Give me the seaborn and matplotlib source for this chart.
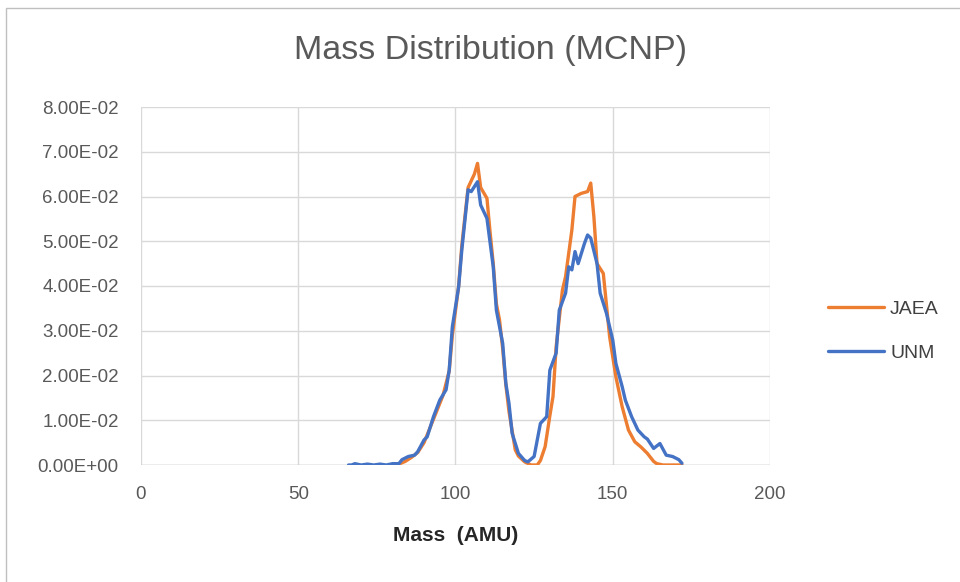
import matplotlib
matplotlib.use("Agg")
import matplotlib.pyplot as plt
from matplotlib.patches import Rectangle
from matplotlib.ticker import FuncFormatter
import pandas as pd
import seaborn as sns

# values
jaea_mass = [80, 82, 84, 86, 88, 90, 92, 94, 96, 98, 99, 101, 102, 104, 106, 107, 108, 110,
             111, 112, 113, 114, 115, 116, 117, 119, 120, 122, 124, 126, 127, 128.5, 130, 131,
             132, 134, 135, 137, 138, 140, 142, 143, 144, 145, 147, 149, 151, 153, 155, 157,
             159, 161, 163, 164, 166, 168, 170, 172]
jaea_val = [0.0, 0.0002, 0.0008, 0.0017, 0.0028, 0.005, 0.0085, 0.012, 0.0155, 0.021, 0.029,
            0.040, 0.049, 0.062, 0.065, 0.0674, 0.062, 0.0596, 0.052, 0.045, 0.036, 0.0324,
            0.026, 0.018, 0.012, 0.0034, 0.002, 0.0007, 0.0, 0.0, 0.001, 0.0041, 0.011, 0.0153,
            0.0264, 0.0391, 0.0421, 0.0525, 0.060, 0.0607, 0.0611, 0.063, 0.0555, 0.045, 0.0428,
            0.0287, 0.0197, 0.013, 0.0078, 0.0052, 0.004, 0.0026, 0.0008, 0.0003, 0.0, 0.0,
            0.0, 0.0]

unm_mass = [66, 67, 68, 70, 72, 74, 76, 78, 80, 82, 83, 85, 87, 88, 90, 91, 93, 95, 97, 98,
            99, 101, 102, 104, 105, 107, 108, 110, 112, 113, 115, 116, 117, 118, 120, 122, 123,
            125, 127, 129, 130, 132, 133, 135, 136, 137, 138, 139, 141, 142, 143, 145, 146, 148,
            150, 151, 153, 154, 156, 158, 160, 161, 163, 165, 167, 169, 171, 172]
unm_val = [0.0, 0.0, 0.0003, 0.0, 0.0002, 0.0, 0.0002, 0.0, 0.0003, 0.0003, 0.0012, 0.0019,
           0.0022, 0.003, 0.0056, 0.0063, 0.0108, 0.0145, 0.0168, 0.0212, 0.0309, 0.0398, 0.048,
           0.0615, 0.0611, 0.0633, 0.0581, 0.0551, 0.0443, 0.0346, 0.0272, 0.0183, 0.0138,
           0.0071, 0.0026, 0.001, 0.0007, 0.0019, 0.0093, 0.0108, 0.0212, 0.025, 0.0346, 0.0384,
           0.0443, 0.0436, 0.0477, 0.045, 0.0495, 0.0514, 0.0507, 0.045, 0.0384, 0.0339, 0.0279,
           0.0227, 0.0175, 0.0145, 0.0108, 0.0078, 0.0063, 0.0058, 0.0037, 0.0048, 0.0022,
           0.0019, 0.0012, 0.0004]

x_ticks = [0, 50, 100, 150, 200]
y_ticks = [0.0, 0.01, 0.02, 0.03, 0.04, 0.05, 0.06, 0.07, 0.08]

df = pd.concat([
    pd.DataFrame({'mass': jaea_mass, 'value': jaea_val, 'source': 'JAEA'}),
    pd.DataFrame({'mass': unm_mass, 'value': unm_val, 'source': 'UNM'}),
], ignore_index=True)

sns.set_style("white")
plt.rcParams['font.family'] = ['Liberation Sans', 'DejaVu Sans']

fig = plt.figure(figsize=(9.6, 5.82), dpi=100)
ax = fig.add_axes([141 / 960, 1 - 465 / 582, 629 / 960, 358 / 582])

sns.lineplot(data=df, x='mass', y='value', hue='source',
             palette={'JAEA': '#ED7D31', 'UNM': '#4472C4'},
             linewidth=2.4, ax=ax, sort=False, estimator=None)

ax.set_xlim(0, 200)
ax.set_ylim(0, 0.08)
ax.set_xticks(x_ticks)
ax.set_yticks(y_ticks)
ax.yaxis.set_major_formatter(FuncFormatter(lambda v, p: f"{v:.2E}"))
ax.grid(True, color='#d9d9d9', linewidth=1)
for s in ax.spines.values():
    s.set_visible(False)
ax.axhline(0, color='#bfbfbf', linewidth=1, zorder=1)
ax.tick_params(axis='both', length=0, labelsize=13.5, labelcolor='#595959')
ax.tick_params(axis='x', pad=15)
ax.tick_params(axis='y', pad=16)

ax.set_xlabel('Mass  (AMU)', fontsize=15, fontweight='bold', labelpad=17)
ax.set_ylabel('')
fig.text(491 / 960, 1 - 51 / 582, 'Mass Distribution (MCNP)', ha='center', va='center',
         fontsize=24.5, color='#595959')

leg = ax.legend(loc='center left', bbox_to_anchor=(1.092, 0.374), frameon=False,
                borderaxespad=0, borderpad=0,
                fontsize=14, handlelength=2.9, labelspacing=1.35, handletextpad=0.3)
for t in leg.get_texts():
    t.set_color('#404040')
for h in leg.get_lines():
    h.set_linewidth(2.4)

fig.patches.append(Rectangle((6 / 960, -0.1), 1.2, 1 - 8 / 582 + 0.1, transform=fig.transFigure,
                             fill=False, edgecolor='#bfbfbf', linewidth=1))

fig.savefig('out.png', dpi=100)
